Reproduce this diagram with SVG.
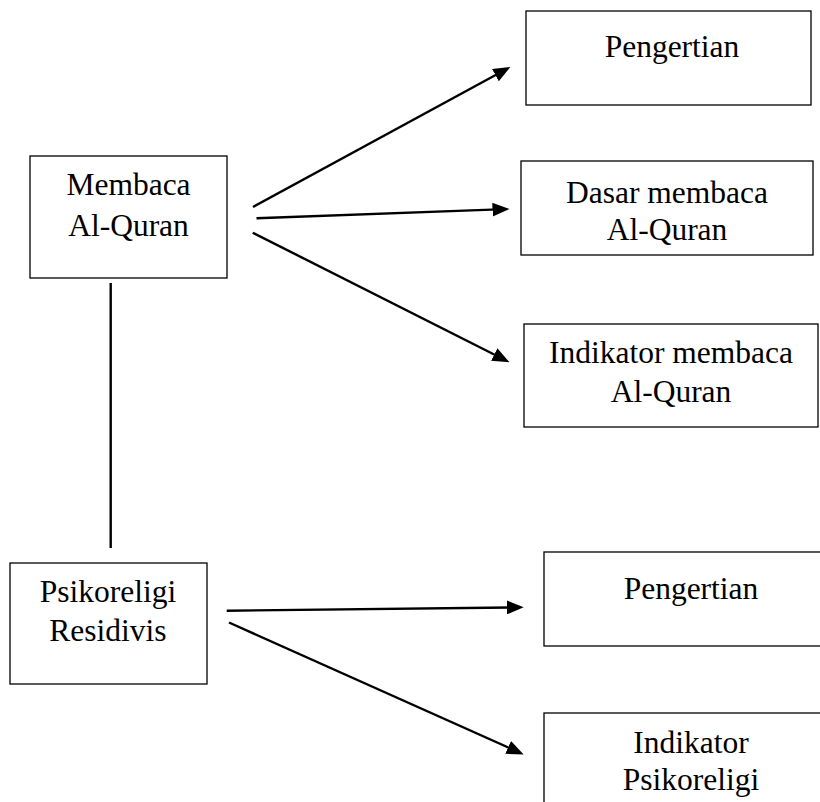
<svg xmlns="http://www.w3.org/2000/svg" width="820" height="802" viewBox="0 0 820 802">
<style>
.box{fill:#fff;stroke:#000;stroke-width:1.3}
.t{font-family:'Liberation Serif','Times New Roman',serif;font-size:31.5px;fill:#000;text-anchor:middle}
.c{stroke:#000;stroke-width:2.4;fill:none}
</style>
<defs>
<marker id="ah" markerUnits="userSpaceOnUse" markerWidth="17" markerHeight="14" refX="6" refY="7" orient="auto">
<path d="M0,0 L17,7 L0,14 Z" fill="#000"/>
</marker>
</defs>
<rect width="820" height="802" fill="#fff"/>
<g id="connectors">
<line class="c" x1="110.7" y1="283" x2="110.7" y2="548"/>
<line class="c" x1="253" y1="207" x2="500.7" y2="72.3" marker-end="url(#ah)"/>
<line class="c" x1="256.5" y1="218.3" x2="498.5" y2="209.4" marker-end="url(#ah)"/>
<line class="c" x1="252.7" y1="232.7" x2="499.6" y2="357.2" marker-end="url(#ah)"/>
<line class="c" x1="226.7" y1="610.7" x2="512.7" y2="607.4" marker-end="url(#ah)"/>
<line class="c" x1="229" y1="622.5" x2="513.6" y2="749.9" marker-end="url(#ah)"/>
</g>
<g id="pengertian1">
<rect class="box" x="526" y="11" width="285" height="94"/>
<text class="t" x="672" y="57">Pengertian</text>
</g>
<g id="membaca">
<rect class="box" x="30" y="156" width="197" height="122"/>
<text class="t" x="128.5" y="195">Membaca</text>
<text class="t" x="128.5" y="236">Al-Quran</text>
</g>
<g id="dasar">
<rect class="box" x="521" y="161" width="292" height="94"/>
<text class="t" x="667" y="203">Dasar membaca</text>
<text class="t" x="667" y="240">Al-Quran</text>
</g>
<g id="indikator1">
<rect class="box" x="524" y="324" width="294" height="103"/>
<text class="t" x="671" y="363">Indikator membaca</text>
<text class="t" x="671" y="402">Al-Quran</text>
</g>
<g id="psikoreligi">
<rect class="box" x="10" y="563" width="197" height="121"/>
<text class="t" x="108" y="602">Psikoreligi</text>
<text class="t" x="108" y="641">Residivis</text>
</g>
<g id="pengertian2">
<rect class="box" x="544" y="552" width="294" height="94"/>
<text class="t" x="691" y="599">Pengertian</text>
</g>
<g id="indikator2">
<rect class="box" x="544" y="713" width="294" height="120"/>
<text class="t" x="691" y="753">Indikator</text>
<text class="t" x="691" y="790">Psikoreligi</text>
</g>
</svg>
